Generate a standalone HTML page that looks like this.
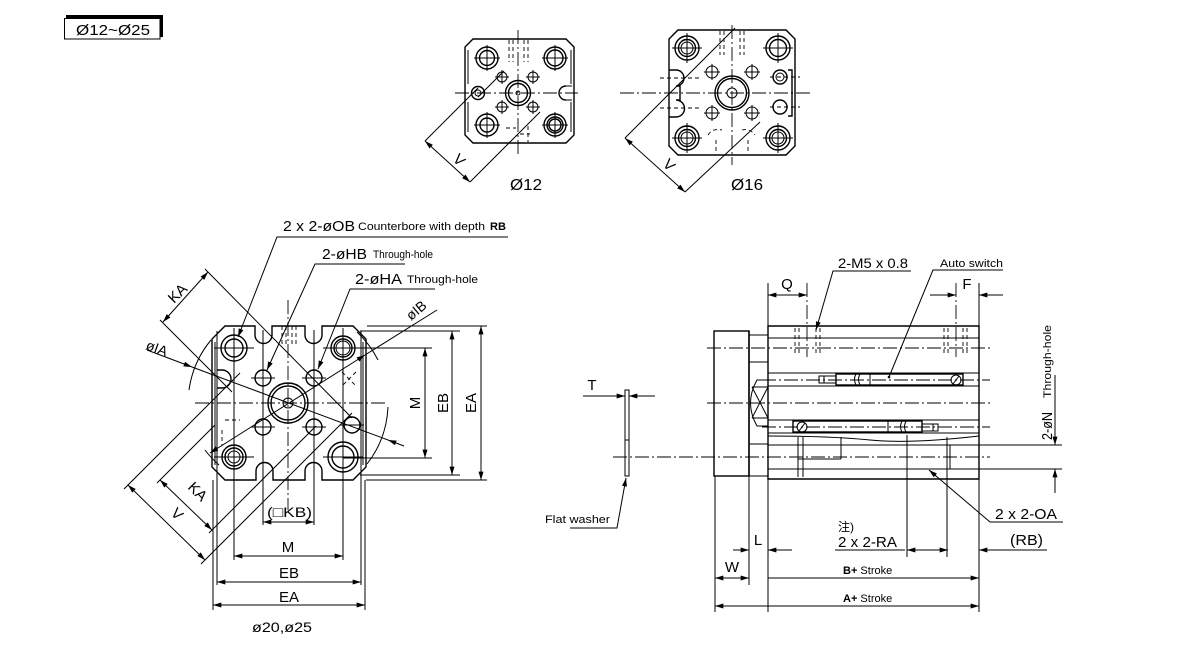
<!DOCTYPE html>
<html><head><meta charset="utf-8"><style>
html,body{margin:0;padding:0;background:#fff;}
svg{display:block;font-family:"Liberation Sans","Noto Sans CJK SC",sans-serif;}
.l{stroke:#000;stroke-width:1;fill:none;}
.k{stroke:#000;stroke-width:1.4;fill:none;}
.c{stroke:#000;stroke-width:0.9;fill:none;stroke-dasharray:14 3 2 3;}
.d{stroke:#000;stroke-width:0.9;fill:none;stroke-dasharray:4 3;}
text{fill:#000;}
</style></head><body>
<svg width="1200" height="650" viewBox="0 0 1200 650" xmlns="http://www.w3.org/2000/svg">
<defs>
<marker id="a" viewBox="0 0 10 6" refX="10" refY="3" markerWidth="10" markerHeight="5" markerUnits="userSpaceOnUse" orient="auto-start-reverse"><path d="M0,0 L10,3 L0,6 Z" fill="#000"/></marker>
</defs>
<rect width="1200" height="650" fill="#fff"/>

<!-- label box -->
<rect x="66" y="15" width="97" height="22" fill="#000"/>
<rect x="64.5" y="18.5" width="95.5" height="20.5" fill="#fff" stroke="#000" stroke-width="1"/>
<text x="76" y="35" font-size="15" textLength="74" lengthAdjust="spacingAndGlyphs">Ø12~Ø25</text>

<!-- ===== Ø12 top view ===== -->
<g class="k">
<path d="M473,39 H566 L574,47 V135 L566,143 H473 L465,135 V47 Z"/>
<circle cx="487" cy="58" r="11"/><circle cx="487" cy="58" r="7.5"/>
<circle cx="555" cy="58" r="11"/><circle cx="555" cy="58" r="8"/>
<circle cx="487" cy="125" r="11"/><circle cx="487" cy="125" r="7"/>
<circle cx="555" cy="125" r="11"/><circle cx="555" cy="125" r="8"/><circle cx="555" cy="125" r="6"/>
<circle cx="518" cy="93" r="12.5"/><circle cx="518" cy="93" r="9.5"/>
<circle cx="478" cy="93" r="6.5"/>
<path d="M566,86 A7,7 0 0 0 566,100"/>
</g>
<g class="l">
<path d="M468,50 V84 M468,102 V132 M571,50 V84 M571,102 V132"/>
<circle cx="518" cy="93" r="2"/><circle cx="478" cy="93" r="3"/>
<circle cx="502" cy="77" r="5"/><circle cx="533" cy="77" r="5"/>
<circle cx="502" cy="107" r="5"/><circle cx="533" cy="107" r="5"/>
<path d="M474,58 H500 M487,45 V71 M542,58 H568 M555,45 V71 M474,125 H500 M487,112 V138 M542,125 H568 M555,112 V138"/>
<path d="M495,77 H509 M502,70 V84 M526,77 H540 M533,70 V84 M495,107 H509 M502,100 V114 M526,107 H540 M533,100 V114"/>
<path d="M566,86 H572 M566,100 H572"/>
<path d="M425,141 L478,88 M470,182 L540,112 M478,97 L504,71"/>
<path d="M425,141 L470,182" marker-start="url(#a)" marker-end="url(#a)"/>
</g>
<path class="d" d="M509,40 V62 M513,40 V62 M524,40 V62 M528,40 V62 M506,128 H516 M520,134 H530 M528,126 V142"/>
<path class="c" d="M518,30 V155 M455,93 H578"/>
<text transform="translate(452,160) rotate(45)" font-size="15">V</text>
<text x="510" y="190" font-size="16" textLength="32" lengthAdjust="spacingAndGlyphs">Ø12</text>

<!-- ===== Ø16 top view ===== -->
<g class="k">
<path d="M678,30 H786 L795,39 V146 L786,155 H678 L669,146 V39 Z"/>
<circle cx="687" cy="48" r="12"/><circle cx="687" cy="48" r="8.5"/>
<circle cx="778" cy="48" r="12"/><circle cx="778" cy="48" r="8.5"/>
<circle cx="687" cy="138" r="12"/><circle cx="687" cy="138" r="8.5"/>
<circle cx="778" cy="138" r="12"/><circle cx="778" cy="138" r="8.5"/>
<circle cx="732" cy="93" r="17"/><circle cx="732" cy="93" r="14.5"/>
<path d="M669,70 H676 A8,8 0 0 1 676,86 H680 V100 H676 A8,8 0 0 1 676,117 H669"/>
<circle cx="780" cy="77" r="7"/><circle cx="780" cy="107" r="7"/>
<path d="M788,70 H792 V116 H788"/>
</g>
<g class="l">
<circle cx="687" cy="48" r="6"/><circle cx="778" cy="138" r="6"/><circle cx="687" cy="138" r="6"/>
<circle cx="732" cy="93" r="5"/><circle cx="780" cy="77" r="4"/>
<circle cx="712" cy="72" r="6"/><circle cx="752" cy="72" r="6"/>
<circle cx="712" cy="113" r="6"/><circle cx="752" cy="113" r="6"/>
<path d="M672,48 H702 M687,33 V63 M763,48 H793 M778,33 V63 M672,138 H702 M687,123 V153 M763,138 H793 M778,123 V153"/>
<path d="M704,72 H720 M712,64 V80 M744,72 H760 M752,64 V80 M704,113 H720 M712,105 V121 M744,113 H760 M752,105 V121"/>
<path d="M625,138 L735,28 M685,192 L760,122"/>
<path d="M625,138 L685,192" marker-start="url(#a)" marker-end="url(#a)"/>
</g>
<path class="d" d="M720,31 V55 M724,31 V55 M740,31 V55 M744,31 V55 M708,135 Q712,128 722,130 M742,130 Q750,128 755,135 M716,140 V154 M748,140 V154 M660,78 H700 M660,108 H700 M770,77 H800 M770,107 H800"/>
<path class="c" d="M732,25 V165 M620,93 H810"/>
<text transform="translate(662,165) rotate(45)" font-size="15">V</text>
<text x="731" y="190" font-size="16" textLength="32" lengthAdjust="spacingAndGlyphs">Ø16</text>

<!-- ===== Front view (ø20, ø25) ===== -->
<g class="k">
<path d="M225,326 H255 V335 A8.5,8.5 0 0 0 272,335 V326 H305 V335 A8.5,8.5 0 0 0 322,335 V326 H353 L366,339 V467 L353,480 H322 V471 A8.5,8.5 0 0 0 305,471 V480 H273 V471 A8.5,8.5 0 0 0 256,471 V480 H225 L212,467 V339 Z"/>
<circle cx="234" cy="348" r="13"/><circle cx="234" cy="348" r="9"/>
<circle cx="343" cy="348" r="12"/><circle cx="343" cy="348" r="9"/>
<circle cx="234" cy="457" r="12"/><circle cx="234" cy="457" r="9"/>
<circle cx="343" cy="457" r="15"/><circle cx="343" cy="457" r="11"/>
<circle cx="288" cy="403" r="20"/><circle cx="288" cy="403" r="17"/>
<circle cx="263" cy="378" r="8"/><circle cx="314" cy="378" r="8"/>
<circle cx="263" cy="427" r="8"/><circle cx="314" cy="427" r="8"/>
<circle cx="352" cy="425" r="8"/>
<path d="M217,370 H222 A9,9 0 0 1 222,388 H217"/>
</g>
<g class="l">
<circle cx="343" cy="348" r="7"/><circle cx="234" cy="457" r="6"/>
<circle cx="288" cy="403" r="5"/>
<path d="M217,331 V475 M361,331 V475 M215,342 V465 M363,342 V465"/>
<path d="M214,348 H254 M234,328 V368 M323,348 H363 M343,328 V368 M214,457 H254 M343,437 V477 M323,457 H363"/>
<path d="M251,378 H275 M302,378 H326 M251,427 H275 M302,427 H326 M340,425 H364"/>
<path d="M234,368 V560 M343,368 V560 M263,330 V525 M314,330 V525"/>
<path d="M217,475 V585 M361,475 V585 M213,480 V610 M365,480 V610"/>
<path d="M367,326 H487 M360,331 H460 M343,348 H432 M343,458 H432 M360,475 H460 M366,480 H487"/>
<!-- dims right -->
<path d="M425,348 V458" marker-start="url(#a)" marker-end="url(#a)"/>
<path d="M452,331 V475" marker-start="url(#a)" marker-end="url(#a)"/>
<path d="M481,326 V480" marker-start="url(#a)" marker-end="url(#a)"/>
<!-- dims bottom -->
<path d="M263,522 H314" marker-start="url(#a)" marker-end="url(#a)"/>
<path d="M234,556 H343" marker-start="url(#a)" marker-end="url(#a)"/>
<path d="M217,582 H361" marker-start="url(#a)" marker-end="url(#a)"/>
<path d="M213,605 H365" marker-start="url(#a)" marker-end="url(#a)"/>
<!-- big arcs -->
<path d="M211,340 A100,100 0 0 0 189,390"/>
<path d="M388,407 A100,100 0 0 1 367,464"/>
<path d="M357,332 A100,100 0 0 1 378,360"/>
<path d="M205,450 A100,100 0 0 0 219,465"/>
<!-- KA top -->
<path d="M205,269 L352,418 M160,320 L232,392"/>
<path d="M208,272 L163,322" marker-start="url(#a)" marker-end="url(#a)"/>
<!-- øIA line -->
<path d="M147,350 L192,367" marker-end="url(#a)"/>
<path d="M192,367 L388,440"/>
<path d="M404,446 L388,440" marker-end="url(#a)"/>
<!-- øIB line -->
<path d="M210,453 L365,355" marker-start="url(#a)" marker-end="url(#a)"/>
<path d="M365,355 L437,310"/>
<!-- V / KA bottom -->
<path d="M124,489 L240,373 M201,564 L352,413 M157,483 L215,425 M209,533 L316,426"/>
<path d="M128,485 L205,560" marker-start="url(#a)" marker-end="url(#a)"/>
<path d="M160,480 L212,530" marker-start="url(#a)" marker-end="url(#a)"/>
<!-- leaders -->
<path d="M508,237 H277 L238,337" marker-end="url(#a)"/>
<path d="M405,264 H315 L267,370" marker-end="url(#a)"/>
<path d="M435,289 H350 L318,369" marker-end="url(#a)"/>
</g>
<path class="d" d="M282,326 V345 M286,326 V345 M292,326 V345 M296,326 V345 M342,372 L356,386 M356,372 L342,386 M225,420 H240 M222,430 V445"/>
<path class="c" d="M195,403 H385 M288,300 V510"/>
<!-- front view texts -->
<text x="283" y="231" font-size="15" textLength="72" lengthAdjust="spacingAndGlyphs">2 x 2-øOB</text>
<text x="358" y="230" font-size="11" textLength="127" lengthAdjust="spacingAndGlyphs">Counterbore with depth</text>
<text x="490" y="230" font-size="11" font-weight="bold">RB</text>
<text x="322" y="259" font-size="15" textLength="45" lengthAdjust="spacingAndGlyphs">2-øHB</text>
<text x="373" y="258" font-size="11" textLength="60" lengthAdjust="spacingAndGlyphs">Through-hole</text>
<text x="355" y="284" font-size="15" textLength="47" lengthAdjust="spacingAndGlyphs">2-øHA</text>
<text x="407" y="283" font-size="11" textLength="71" lengthAdjust="spacingAndGlyphs">Through-hole</text>
<text transform="translate(174,304) rotate(-45)" font-size="15">KA</text>
<text transform="translate(145,349) rotate(20)" font-size="14">øIA</text>
<text transform="translate(411,321) rotate(-40)" font-size="14">øIB</text>
<text transform="translate(420,403) rotate(-90)" font-size="15" text-anchor="middle">M</text>
<text transform="translate(448,403) rotate(-90)" font-size="15" text-anchor="middle">EB</text>
<text transform="translate(476,403) rotate(-90)" font-size="15" text-anchor="middle">EA</text>
<text transform="translate(187,488) rotate(45)" font-size="15">KA</text>
<text transform="translate(170,514) rotate(45)" font-size="15">V</text>
<text x="267" y="517" font-size="14" textLength="45" lengthAdjust="spacingAndGlyphs">(□KB)</text>
<text x="288" y="552" font-size="15" text-anchor="middle">M</text>
<text x="289" y="578" font-size="15" text-anchor="middle">EB</text>
<text x="289" y="602" font-size="15" text-anchor="middle">EA</text>
<text x="252" y="632" font-size="14" textLength="60" lengthAdjust="spacingAndGlyphs">ø20,ø25</text>

<!-- ===== Side view ===== -->
<g class="k">
<rect x="714" y="331" width="35" height="145"/>
<path d="M768,326 H979 V479 H768 Z"/>
<path d="M749,331 V476"/>
<rect x="836" y="374" width="127" height="11"/>
<rect x="793" y="421" width="129" height="11"/>
</g>
<g class="l">
<path d="M749,335 H768 M749,362 H768 M749,444 H768 M749,476 H768"/>
<path d="M768,380 H757 Q744,403 757,426 H768 M752,387 H768 M752,418 H768 M752,387 L768,418 M752,418 L768,387"/>
<path d="M768,338 H979 M768,373 H979 M768,386 H979 M768,420 H979 M768,433 H979"/>
<path d="M768,436 Q830,436 870,440 T979,436"/>
<path d="M768,445 H1062 M768,469 H1062"/>
<path d="M798,437 V477 M803,437 V477 M841,437 V459 M798,459 H841 M907,435 V557 M947,437 V557 M950,445 V469"/>
<!-- switches details -->
<path d="M819,376 H836 V383 H819 Z M824,376 V383 M856,374 Q853,379 856,385 M860,374 Q857,379 860,385 M870,374 V385"/>
<circle cx="956" cy="380" r="5"/><path d="M953,384 L959,376"/>
<path d="M922,424 H938 V431 H922 Z M933,424 V431 M888,421 V432 M902,421 Q899,427 902,432 M906,421 Q903,427 906,432"/>
<circle cx="802" cy="427" r="5"/><path d="M799,431 L805,423"/>
<!-- ports -->
<path d="M768,338 H979"/>
<!-- ext lines -->
<path d="M768,283 V326 M979,283 V326 M979,479 V612 M715,476 V612 M768,479 V612 M749,476 V585"/>
<!-- dims -->
<path d="M768,295 H807" marker-start="url(#a)" marker-end="url(#a)"/>
<path d="M930,295 H956" marker-end="url(#a)"/>
<path d="M1003,295 H979" marker-end="url(#a)"/>
<path d="M1055,375 V445" marker-end="url(#a)"/>
<path d="M1055,493 V469" marker-end="url(#a)"/>
<path d="M907,550 H948" marker-start="url(#a)" marker-end="url(#a)"/>
<path d="M835,550 H905"/>
<path d="M1047,550 H979" marker-end="url(#a)"/>
<path d="M768,578 H979" marker-end="url(#a)"/>
<path d="M715,606 H979" marker-start="url(#a)" marker-end="url(#a)"/>
<path d="M715,578 H749" marker-start="url(#a)" marker-end="url(#a)"/>
<path d="M733,550 H749" marker-end="url(#a)"/>
<path d="M792,550 H768" marker-end="url(#a)"/>
<!-- washer -->
<rect x="625" y="390" width="4" height="86"/>
<path d="M625,440 H629"/>
<path d="M583,396 H625" marker-end="url(#a)"/>
<path d="M655,396 H629" marker-end="url(#a)"/>
<!-- leaders -->
<path d="M911,271 H833 L816,330" marker-end="url(#a)"/>
<path d="M1003,270 H933 L889,377"/>
<circle cx="889" cy="377" r="0.8" fill="#000"/>
<path d="M1063,522 H990 L929,470" marker-end="url(#a)"/>
<path d="M570,528 H617 L626,478" marker-end="url(#a)"/>
</g>
<path class="d" d="M795,328 V355 M799,328 V355 M816,328 V355 M820,328 V355 M944,328 V355 M948,328 V355 M963,328 V355 M967,328 V355"/>
<path class="c" d="M807,283 V357 M956,283 V357 M707,348 H990 M762,380 H990 M707,403 H990 M762,427 H990 M613,457 H990"/>
<!-- side texts -->
<text x="838" y="268" font-size="14" textLength="70" lengthAdjust="spacingAndGlyphs">2-M5 x 0.8</text>
<text x="940" y="267" font-size="11" textLength="63" lengthAdjust="spacingAndGlyphs">Auto switch</text>
<text x="787" y="289" font-size="15" text-anchor="middle">Q</text>
<text x="967" y="289" font-size="15" text-anchor="middle">F</text>
<text transform="translate(1052,440) rotate(-90)" font-size="15" textLength="28" lengthAdjust="spacingAndGlyphs">2-øN</text>
<text transform="translate(1051,398) rotate(-90)" font-size="11" textLength="73" lengthAdjust="spacingAndGlyphs">Through-hole</text>
<text x="592" y="390" font-size="15" text-anchor="middle">T</text>
<text x="545" y="523" font-size="11" textLength="65" lengthAdjust="spacingAndGlyphs">Flat washer</text>
<text x="758" y="545" font-size="15" text-anchor="middle">L</text>
<text x="732" y="572" font-size="15" text-anchor="middle">W</text>
<text x="838" y="531" font-size="12">注)</text>
<text x="838" y="547" font-size="15" textLength="59" lengthAdjust="spacingAndGlyphs">2 x 2-RA</text>
<text x="995" y="519" font-size="15" textLength="62" lengthAdjust="spacingAndGlyphs">2 x 2-OA</text>
<text x="1010" y="545" font-size="15" textLength="33" lengthAdjust="spacingAndGlyphs">(RB)</text>
<text x="843" y="574" font-size="11"><tspan font-weight="bold">B+</tspan> Stroke</text>
<text x="843" y="602" font-size="11"><tspan font-weight="bold">A+</tspan> Stroke</text>
</svg>
</body></html>
